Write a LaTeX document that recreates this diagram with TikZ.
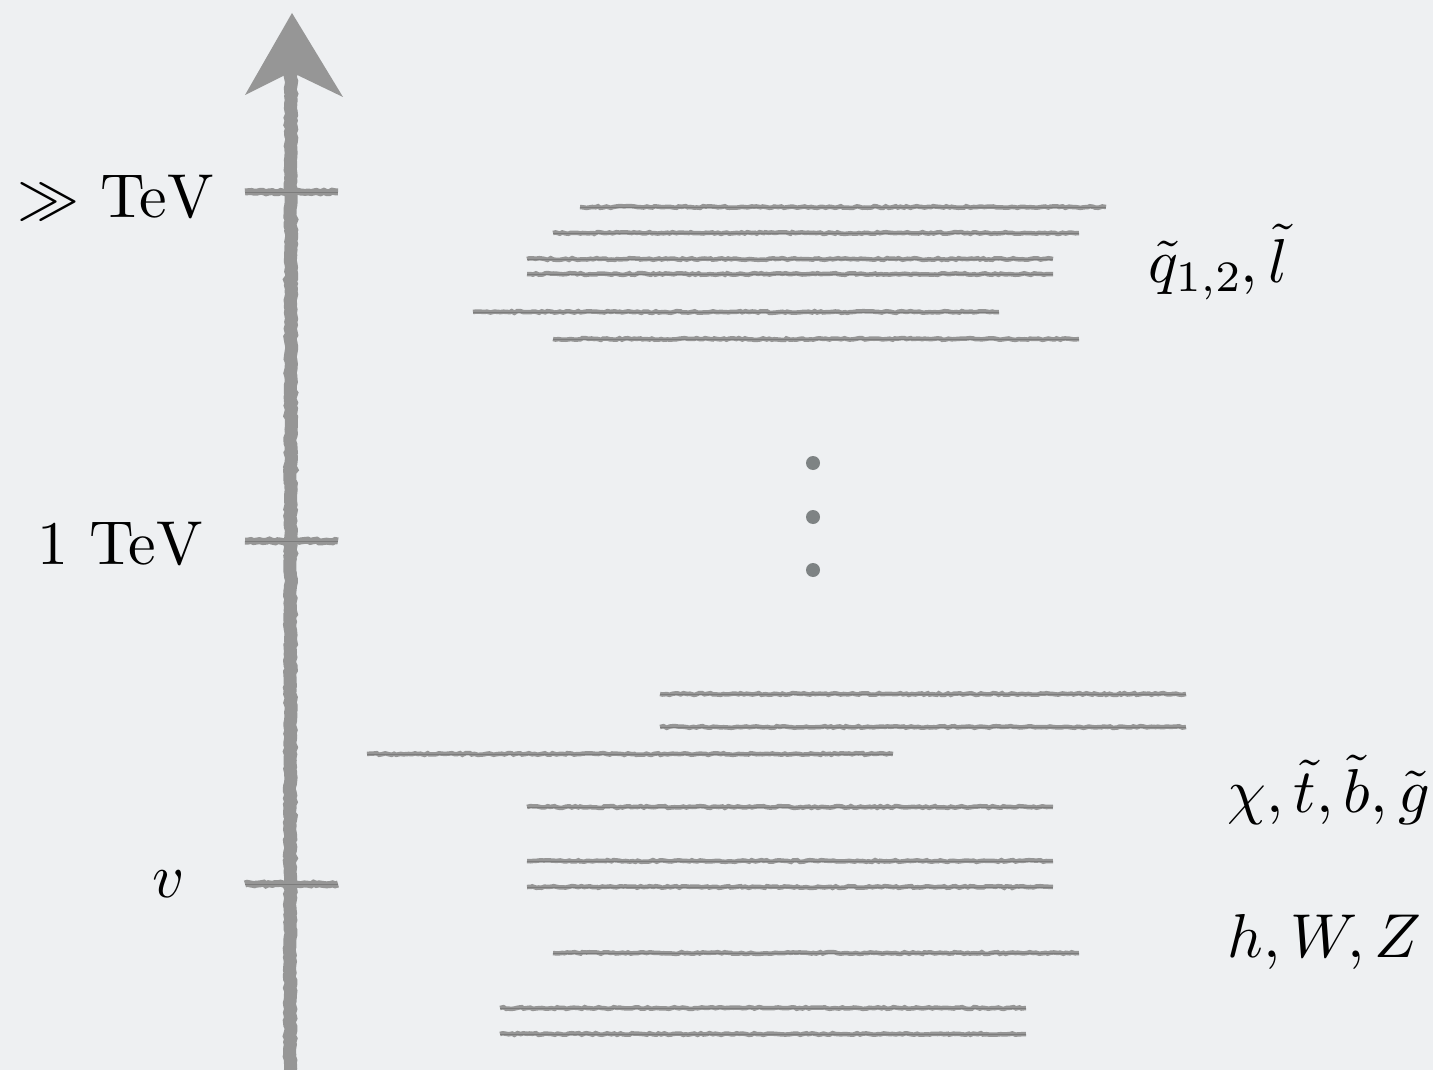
\documentclass[tikz,border=0pt]{standalone}
\usetikzlibrary{decorations.pathmorphing}
% Computer Modern at its 10pt design size, scaled up for large labels
\DeclareFontFamily{OT1}{cmr}{\hyphenchar\font45 }
\DeclareFontShape{OT1}{cmr}{m}{n}{<-40> cmr5 <40-50> cmr7 <50-> cmr10}{}
\DeclareFontFamily{OML}{cmm}{\skewchar\font127 }
\DeclareFontShape{OML}{cmm}{m}{it}{<-40> cmmi5 <40-50> cmmi7 <50-> cmmi10}{}
\DeclareFontFamily{OMS}{cmsy}{\skewchar\font48 }
\DeclareFontShape{OMS}{cmsy}{m}{n}{<-40> cmsy5 <40-50> cmsy7 <50-> cmsy10}{}
\DeclareFontFamily{OMX}{cmex}{}
\DeclareFontShape{OMX}{cmex}{m}{n}{<-> cmex10}{}
\DeclareMathSizes{62}{62}{43.4}{31}
\definecolor{bg}{HTML}{EEF0F2}
\definecolor{ink}{HTML}{969696}
\definecolor{core}{HTML}{7C7C7C}
\definecolor{dotc}{HTML}{7E8384}
\tikzset{
  rough/.style={decorate, decoration={random steps, segment length=3pt, amplitude=0.9pt}},
  level/.style={rough, draw=ink, line width=4.5pt, line cap=butt},
  levelcore/.style={draw=core, line width=0.8pt},
  tick/.style={rough, draw=ink, line width=7pt},
  axis/.style={rough, draw=ink, line width=13pt},
  lab/.style={inner sep=0pt, font=\fontencoding{OT1}\fontfamily{cmr}\fontsize{62}{74}\selectfont},
}
\begin{document}
\begin{tikzpicture}[x=1pt, y=-1pt]
  \useasboundingbox[fill=bg] (0,0) rectangle (1433,1070);

  % energy axis
  \coordinate (base) at (290,1075);
  \coordinate (shaft) at (291,70);
  \coordinate (tip) at (292,13);
  \draw[axis] (base) -- (shaft);
  \fill[ink] (tip) -- (343,97) -- (291,72) -- (245,95) -- cycle;

  % scale ticks
  \foreach \name/\y in {tA/192, tB/541, tC/884}{
    \coordinate (\name l) at (245,\y);
    \coordinate (\name r) at (338,\y);
    \draw[tick] (\name l) -- (\name r);
    \draw[levelcore] (\name l) -- (\name r);
  }

  % scale labels
  \node[lab, anchor=east] (lA) at (214,198) {$\gg$ TeV};
  \node[lab, anchor=east] (lB) at (203,543) {1 TeV};
  \node[lab, anchor=east] (lC) at (185,884) {$v$};

  % mass levels
  \foreach \y/\xa in {207/580, 233/553, 259/527, 274/527, 312/473, 339/553,
                      694/660, 727/660, 754/367, 807/527, 861/527, 887/527,
                      953/553, 1008/500, 1034/500}{
    \draw[level] (\xa,\y) -- ++(526,0);
    \draw[levelcore] (\xa,\y) -- ++(526,0);
  }

  % ellipsis
  \foreach \name/\y in {d1/463, d2/517, d3/570}{
    \fill[dotc] (813,\y) circle (7pt);
  }

  % particle labels
  \node[lab, anchor=west] (pA) at (1148,262) {$\tilde q_{1,2},\tilde l$};
  \node[lab, anchor=east] (pB) at (1430,790) {$\chi,\tilde t,\tilde b,\tilde g$};
  \node[lab, anchor=east] (pC) at (1422,942) {$h,W,Z$};
\end{tikzpicture}
\end{document}
